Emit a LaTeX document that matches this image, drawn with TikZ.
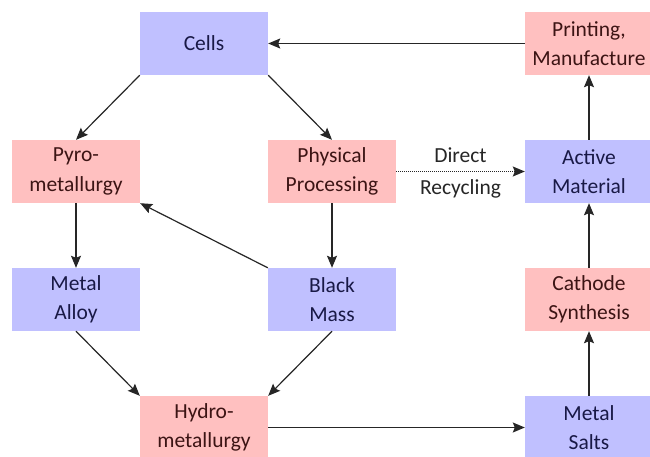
\documentclass[tikz,border=0pt]{standalone}
\usepackage{fontspec}
\setmainfont{Carlito}
\usetikzlibrary{arrows.meta}
\definecolor{boxblue}{RGB}{192,192,255}
\definecolor{boxpink}{RGB}{255,192,192}
\definecolor{txtblue}{RGB}{25,25,70}
\definecolor{txtpink}{RGB}{60,20,20}
\tikzset{
  box/.style={minimum width=128pt, minimum height=63pt, inner sep=0pt, align=center,
    font=\fontsize{21.5}{29.5}\selectfont},
  bluebox/.style={box, fill=boxblue, text=txtblue},
  pinkbox/.style={box, fill=boxpink, text=txtpink},
  conn/.style={draw=black!85, line width=1.2pt, -{Stealth[length=12pt,width=10pt,inset=2pt]}},
  lbl/.style={font=\fontsize{21.5}{29.5}\selectfont, text=black!85, inner sep=0pt}
}
\begin{document}
\begin{tikzpicture}[x=1pt,y=-1pt]
\useasboundingbox (0,0) rectangle (650,457);
\node[bluebox] (cells) at (204,43.5) {Cells};
\node[pinkbox] (print) at (589,43.5) {Printing,\\Manufacture};
\node[pinkbox] (pyro) at (76,171.5) {Pyro-\\metallurgy};
\node[pinkbox] (phys) at (332,171.5) {Physical\\Processing};
\node[bluebox] (active) at (589,171.5) {Active\\Material};
\node[bluebox] (alloy) at (76,299.5) {Metal\\Alloy};
\node[bluebox] (black) at (332,299.5) {Black\\Mass};
\node[pinkbox] (cath) at (589,299.5) {Cathode\\Synthesis};
\node[pinkbox] (hydro) at (204,427.5) {Hydro-\\metallurgy};
\node[bluebox] (salts) at (589,427.5) {Metal\\Salts};

\draw[conn] (print) -- (cells);
\draw[conn] (cells.south west) -- (pyro.north);
\draw[conn] (cells.south east) -- (phys.north);
\draw[conn] (pyro) -- (alloy);
\draw[conn] (phys) -- (black);
\draw[conn] (black.north west) -- (pyro.south east);
\draw[conn] (alloy.south) -- (hydro.north west);
\draw[conn] (black.south) -- (hydro.north east);
\draw[conn] (hydro) -- (salts);
\draw[conn] (salts) -- (cath);
\draw[conn] (cath) -- (active);
\draw[conn] (active) -- (print);
\draw[conn, dash pattern=on 1pt off 1pt] (phys) -- coordinate[pos=0.5] (mid) (active);
\node[lbl, anchor=base] (dlbl) at ([yshift=9pt]mid) {Direct};
\node[lbl, anchor=base] (rlbl) at ([yshift=-23pt]mid) {Recycling};
\end{tikzpicture}
\end{document}
